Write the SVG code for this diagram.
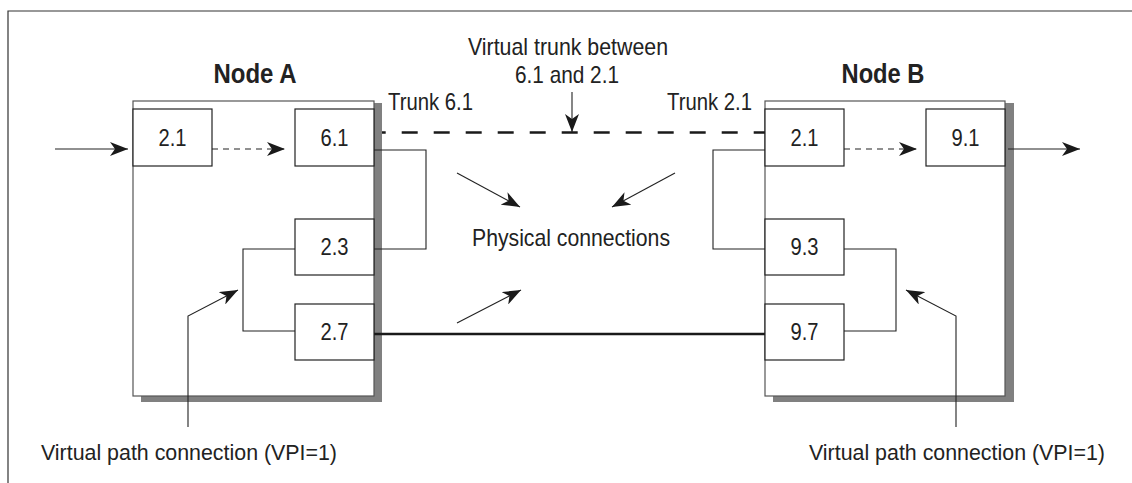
<svg xmlns="http://www.w3.org/2000/svg" width="1132" height="483" viewBox="0 0 1132 483">
<defs>
<marker id="ah" markerUnits="userSpaceOnUse" markerWidth="19" markerHeight="14" refX="18" refY="7" orient="auto">
<path d="M0,0 L18,7 L0,14 L5,7 Z" fill="#1a1a1a"/>
</marker>
</defs>
<style>
.frame{fill:none;stroke:#333;stroke-width:1.2}
.shadow{fill:#808080;stroke:none}
.nodebox{fill:#fff;stroke:#555;stroke-width:1.2}
.port{fill:#fff;stroke:#222;stroke-width:1.2}
.ln{fill:none;stroke:#222;stroke-width:1.1}
.dsh{fill:none;stroke:#222;stroke-width:1.1;stroke-dasharray:6 5}
.trunk{fill:none;stroke:#1a1a1a;stroke-width:2.7;stroke-dasharray:16 16;stroke-dashoffset:12.3}
.phys{fill:none;stroke:#1a1a1a;stroke-width:2.6}
text{font-family:"Liberation Sans",Arial,sans-serif;fill:#222}
.lbl{font-size:24px}
.vpc{font-size:21.5px}
.num{font-size:23px;text-anchor:middle}
.title{font-size:27px;font-weight:bold;text-anchor:middle}
</style>
<path class="frame" d="M8,484 V11 H1133"/>
<g id="nodeA">
<rect class="shadow" x="141" y="103" width="241" height="299"/>
<rect class="nodebox" x="133" y="101" width="241" height="295"/>
<text class="title" x="255" y="83" textLength="83" lengthAdjust="spacingAndGlyphs">Node A</text>
</g>
<g id="nodeB">
<rect class="shadow" x="773" y="103" width="241" height="299"/>
<rect class="nodebox" x="765" y="101" width="240" height="295"/>
<text class="title" x="883" y="83" textLength="83" lengthAdjust="spacingAndGlyphs">Node B</text>
</g>
<g id="connectors">
<line class="ln" x1="55" y1="149" x2="128" y2="149" marker-end="url(#ah)"/>
<line class="dsh" x1="212" y1="149" x2="285" y2="149" marker-end="url(#ah)"/>
<line class="dsh" x1="844" y1="149" x2="917" y2="149" marker-end="url(#ah)"/>
<line class="ln" x1="1008" y1="149" x2="1080" y2="149" marker-end="url(#ah)"/>
<line class="trunk" x1="382" y1="132.5" x2="765" y2="132.5"/>
<line class="phys" x1="374" y1="334" x2="765" y2="334"/>
<path class="ln" d="M374,150 H426 V249 H374"/>
<path class="ln" d="M765,150 H713 V249 H765"/>
<path class="ln" d="M295,249 H243 V331 H295"/>
<path class="ln" d="M844,249 H896 V331 H844"/>
<line class="ln" x1="572" y1="92" x2="572" y2="132" marker-end="url(#ah)"/>
<line class="ln" x1="457" y1="173" x2="520" y2="207" marker-end="url(#ah)"/>
<line class="ln" x1="675" y1="173" x2="612" y2="207" marker-end="url(#ah)"/>
<line class="ln" x1="457" y1="323" x2="521" y2="290" marker-end="url(#ah)"/>
<path class="ln" d="M188,427 V316 L238,290" marker-end="url(#ah)"/>
<path class="ln" d="M956,427 V316 L906,290" marker-end="url(#ah)"/>
</g>
<g id="portA21"><rect class="port" x="133" y="109" width="79" height="57"/><text class="num" x="172.5" y="146" textLength="28" lengthAdjust="spacingAndGlyphs">2.1</text></g>
<g id="portA61"><rect class="port" x="295" y="109" width="79" height="57"/><text class="num" x="334.5" y="146" textLength="28" lengthAdjust="spacingAndGlyphs">6.1</text></g>
<g id="portA23"><rect class="port" x="295" y="219" width="79" height="56"/><text class="num" x="334.5" y="255" textLength="28" lengthAdjust="spacingAndGlyphs">2.3</text></g>
<g id="portA27"><rect class="port" x="295" y="304" width="79" height="56"/><text class="num" x="334.5" y="340" textLength="28" lengthAdjust="spacingAndGlyphs">2.7</text></g>
<g id="portB21"><rect class="port" x="765" y="109" width="79" height="57"/><text class="num" x="804.5" y="146" textLength="28" lengthAdjust="spacingAndGlyphs">2.1</text></g>
<g id="portB91"><rect class="port" x="926" y="109" width="79" height="57"/><text class="num" x="965.5" y="146" textLength="28" lengthAdjust="spacingAndGlyphs">9.1</text></g>
<g id="portB93"><rect class="port" x="765" y="219" width="79" height="56"/><text class="num" x="804.5" y="255" textLength="28" lengthAdjust="spacingAndGlyphs">9.3</text></g>
<g id="portB97"><rect class="port" x="765" y="304" width="79" height="56"/><text class="num" x="804.5" y="340" textLength="28" lengthAdjust="spacingAndGlyphs">9.7</text></g>
<g id="labels">
<text class="lbl" x="468" y="55" textLength="200" lengthAdjust="spacingAndGlyphs">Virtual trunk between</text>
<text class="lbl" x="515" y="83" textLength="104" lengthAdjust="spacingAndGlyphs">6.1 and 2.1</text>
<text class="lbl" x="388" y="110" textLength="85" lengthAdjust="spacingAndGlyphs">Trunk 6.1</text>
<text class="lbl" x="667" y="110" textLength="85" lengthAdjust="spacingAndGlyphs">Trunk 2.1</text>
<text class="lbl" x="472" y="246" textLength="198" lengthAdjust="spacingAndGlyphs">Physical connections</text>
<text class="vpc" x="41" y="460" textLength="296" lengthAdjust="spacingAndGlyphs">Virtual path connection (VPI=1)</text>
<text class="vpc" x="809" y="460" textLength="296" lengthAdjust="spacingAndGlyphs">Virtual path connection (VPI=1)</text>
</g>
</svg>
